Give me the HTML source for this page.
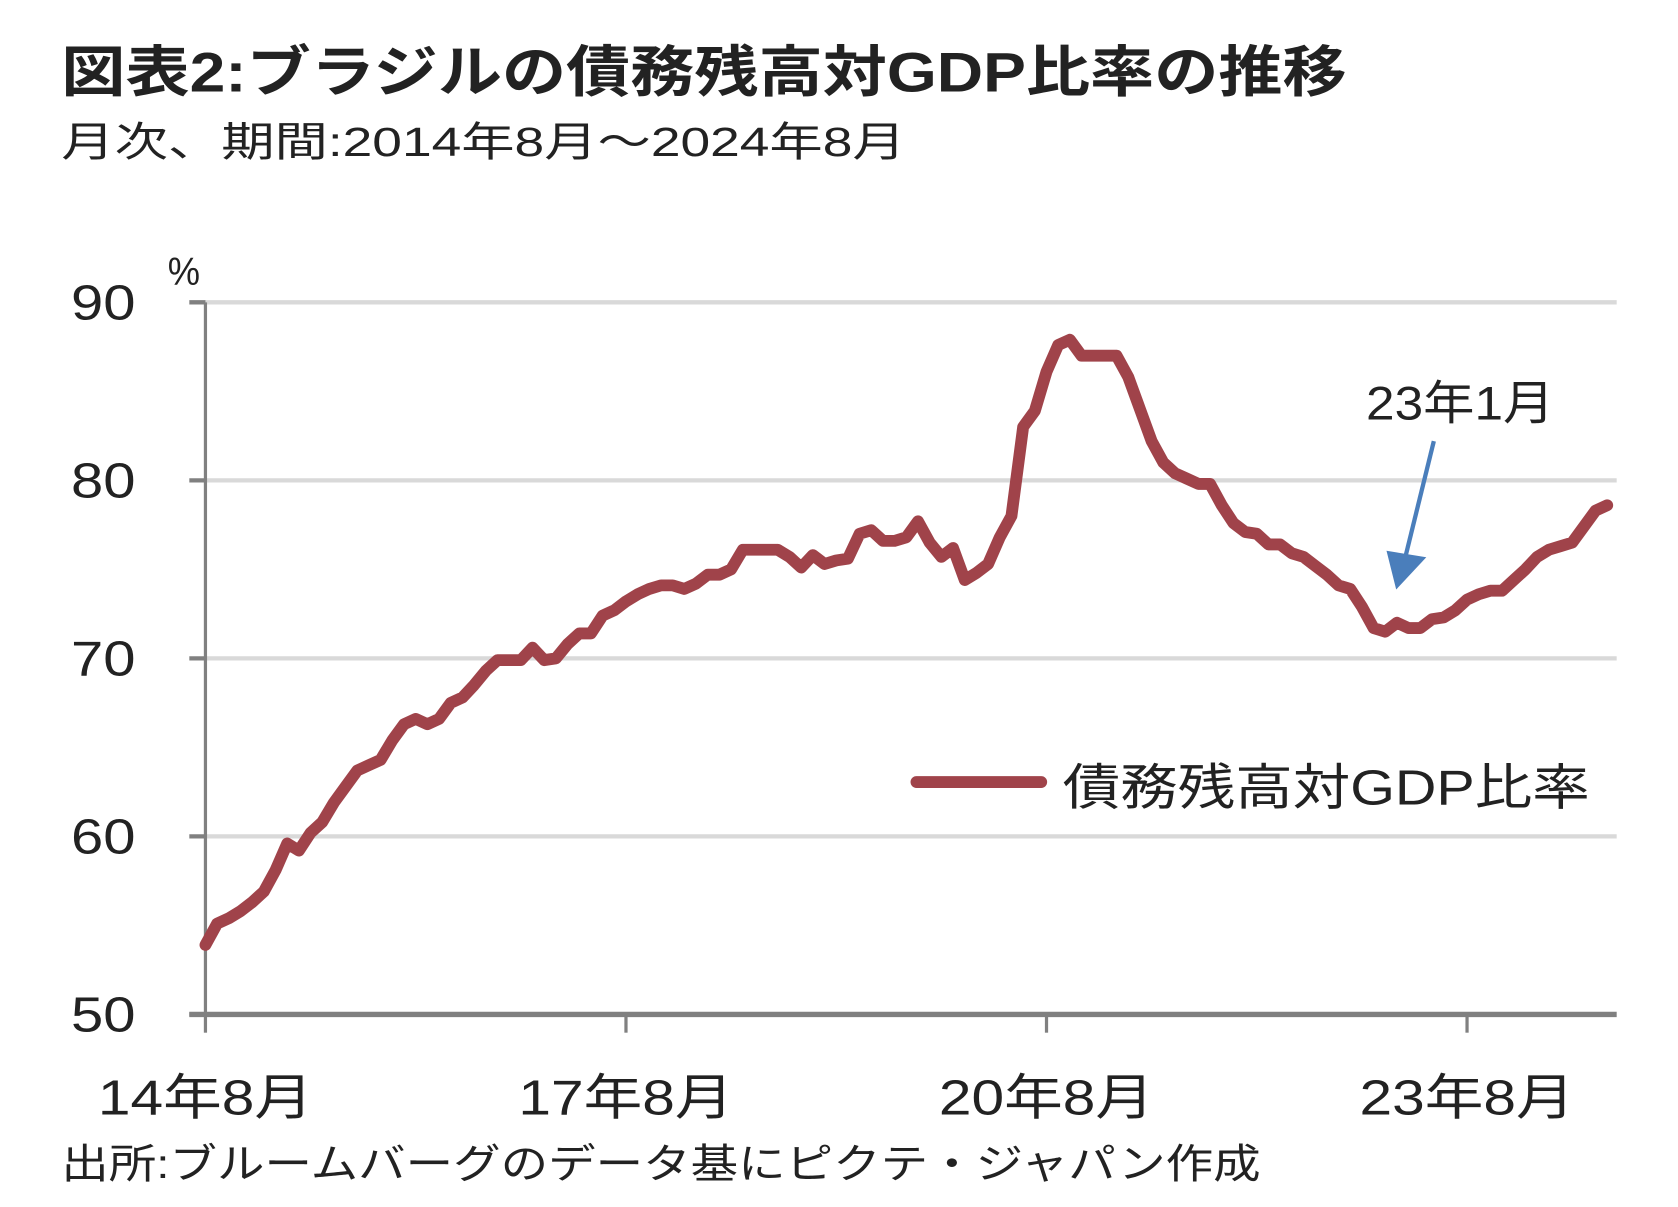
<!DOCTYPE html>
<html><head><meta charset="utf-8"><style>
html,body{margin:0;padding:0;background:#fff;}
svg{display:block;}
text{font-family:"Liberation Sans","Noto Sans CJK JP",sans-serif;fill:#222;}
</style></head><body>
<svg id="chart" width="1678" height="1207" viewBox="0 0 1560 1122" xmlns="http://www.w3.org/2000/svg">
<text x="57" y="85" font-size="52" font-weight="bold" fill="#333" textLength="1195" lengthAdjust="spacingAndGlyphs">図表2:ブラジルの債務残高対GDP比率の推移</text>
<text x="57" y="145" font-size="38" fill="#444" textLength="785" lengthAdjust="spacingAndGlyphs">月次、期間:2014年8月～2024年8月</text>
<text x="156" y="265" font-size="36" textLength="30" lengthAdjust="spacingAndGlyphs">%</text>
<g id="grid"></g>
<g id="axes"></g>
<polyline id="series" fill="none" stroke="#a0434a" stroke-width="11" stroke-linejoin="round" stroke-linecap="round"/>
<text x="1270" y="390" font-size="44" textLength="175" lengthAdjust="spacingAndGlyphs">23年1月</text>
<line x1="1333" y1="410" x2="1306" y2="520" stroke="#4a7ebb" stroke-width="4"/>
<polygon points="1298,548 1289,512 1326,518" fill="#4a7ebb"/>
<line x1="852" y1="727" x2="968" y2="727" stroke="#a0434a" stroke-width="11" stroke-linecap="round"/>
<text x="988" y="748" font-size="46" textLength="490" lengthAdjust="spacingAndGlyphs">債務残高対GDP比率</text>
<text x="57" y="1095" font-size="38" textLength="1115" lengthAdjust="spacingAndGlyphs">出所:ブルームバーグのデータ基にピクテ・ジャパン作成</text>
</svg>
<script>
const yTicks=[50,60,70,80,90];
const xTickLabels=["14年8月","17年8月","20年8月","23年8月"];
const xTickIndex=[0,36,72,108];
const values=[53.9,55.1,55.4,55.8,56.3,56.9,58.1,59.6,59.2,60.2,60.8,61.9,62.8,63.7,64.0,64.3,65.4,66.3,66.6,66.3,66.6,67.5,67.8,68.5,69.3,69.9,69.9,69.9,70.6,69.9,70.0,70.8,71.4,71.4,72.4,72.7,73.2,73.6,73.9,74.1,74.1,73.9,74.2,74.7,74.7,75.0,76.1,76.1,76.1,76.1,75.7,75.1,75.8,75.3,75.5,75.6,77.0,77.2,76.6,76.6,76.8,77.7,76.5,75.7,76.2,74.4,74.8,75.3,76.8,78.0,83.0,83.9,86.1,87.6,87.9,87.0,87.0,87.0,87.0,85.8,84.0,82.2,81.0,80.4,80.1,79.8,79.8,78.6,77.6,77.1,77.0,76.4,76.4,75.9,75.7,75.2,74.7,74.1,73.9,72.9,71.7,71.5,72.0,71.7,71.7,72.2,72.3,72.7,73.3,73.6,73.8,73.8,74.4,75.0,75.7,76.1,76.3,76.5,77.4,78.3,78.6];
const NS="http://www.w3.org/2000/svg";
const X0=191,X1=1503,DX=10.86;
const xs=i=>X0+i*DX;
const ys=v=>943-(v-50)*(943-281)/40;
const svg=document.getElementById('chart'),grid=document.getElementById('grid'),axes=document.getElementById('axes');
function mk(tag,attrs,parent){const e=document.createElementNS(NS,tag);for(const k in attrs)e.setAttribute(k,attrs[k]);parent.appendChild(e);return e;}
yTicks.forEach(v=>{
  if(v>50){const g=mk('line',{x1:X0,x2:X1,y1:ys(v),y2:ys(v),stroke:'#d9d9d9','stroke-width':4},grid);
  
  }
  const t=mk('line',{x1:176,x2:X0,y1:ys(v),y2:ys(v),stroke:'#808080','stroke-width':4},axes);
  
  
  const l=mk('text',{x:126,y:ys(v)+16,'font-size':46,'text-anchor':'end',textLength:60,lengthAdjust:'spacingAndGlyphs'},axes);
  l.textContent=v;
  
  
});
const ya=mk('line',{x1:X0,x2:X0,y1:281,y2:943,stroke:'#808080','stroke-width':3},axes);


const xa=mk('line',{x1:176,x2:X1,y1:943,y2:943,stroke:'#808080','stroke-width':5},axes);


xTickIndex.forEach((idx,k)=>{
  const t=mk('line',{x1:xs(idx),x2:xs(idx),y1:943,y2:960,stroke:'#808080','stroke-width':3},axes);
  
  
  const l=mk('text',{x:xs(idx),y:1036,'font-size':46,'text-anchor':'middle',textLength:200,lengthAdjust:'spacingAndGlyphs'},axes);
  l.textContent=xTickLabels[k];
  
  
});
document.getElementById('series').setAttribute('points',values.map((v,i)=>xs(i)+','+ys(v)).join(' '));
</script>
</body></html>
